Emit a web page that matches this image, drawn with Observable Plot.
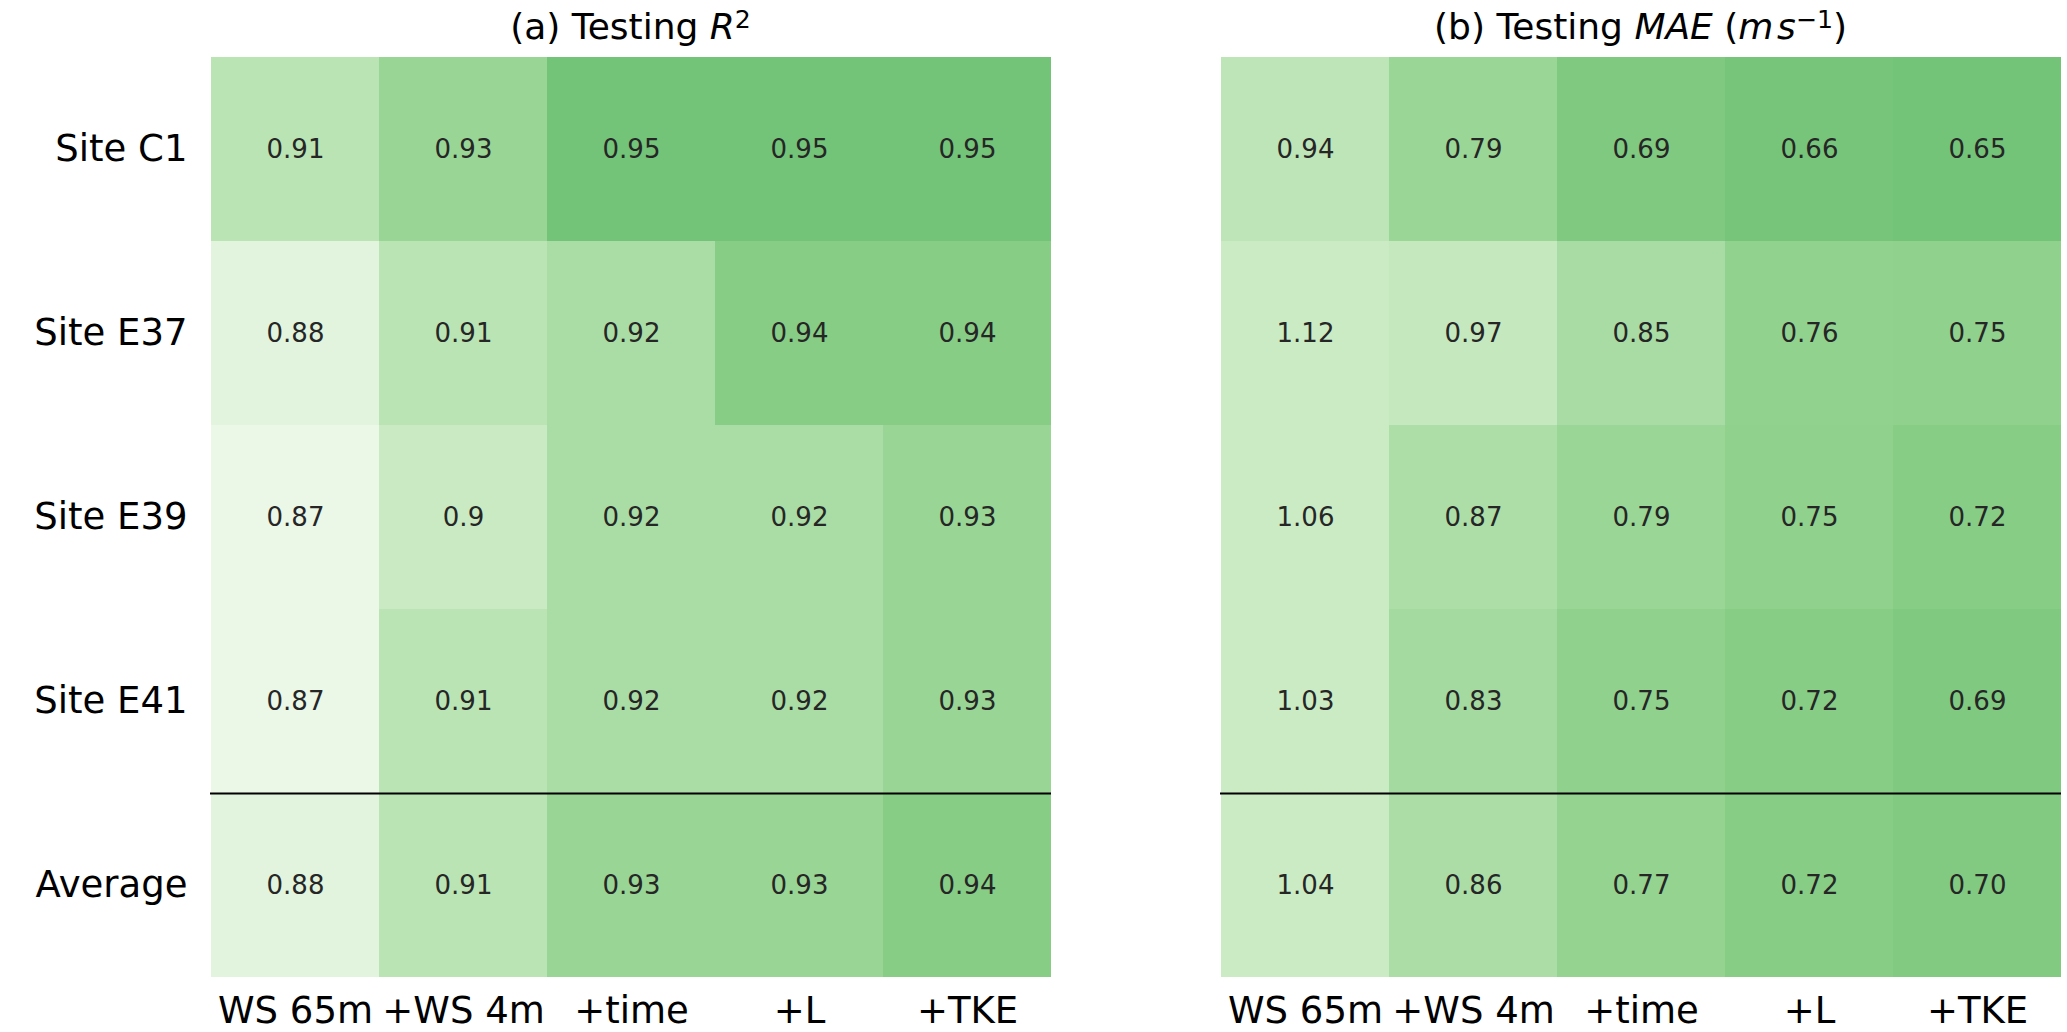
<!DOCTYPE html>
<html>
<head>
<meta charset="utf-8">
<script src="https://cdn.jsdelivr.net/npm/d3@7"></script>
<script src="https://cdn.jsdelivr.net/npm/@observablehq/plot@0.6"></script>
<style>
  body { margin: 0; background: #fff; font-family: "DejaVu Sans", sans-serif; }
  #root { position: relative; width: 2067px; height: 1032px; overflow: hidden; background: #fff; }
  .title { position: absolute; top: 9px; width: 841px; font-size: 36px; line-height: 36px; text-align: center; white-space: nowrap; color: #000; }
  .title i { font-style: italic; }
  .title sup { font-size: 0.7em; line-height: 0; vertical-align: 0.42em; }
  .panel { position: absolute; top: 57px; }
  .panel svg { overflow: visible; display: block; font-kerning: normal; }
</style>
</head>
<body>
<div id="root">
  <div class="title" style="left:210px">(a) Testing <i>R</i><sup>2</sup></div>
  <div class="title" style="left:1220px">(b) Testing <i>MAE</i> (<i>m</i>&#8202;<i>s</i><sup>&#8722;1</sup>)</div>
  <div class="panel" id="pa" style="left:0px"></div>
  <div class="panel" id="pb" style="left:1160px"></div>
</div>
<script>
// Categories
const models = ["WS 65m", "+WS 4m", "+time", "+L", "+TKE"];
const sites = ["Site C1", "Site E37", "Site E39", "Site E41", "Average"];

// (a) Testing R^2, one array per row
const r2C1  = [0.91, 0.93, 0.95, 0.95, 0.95];
const r2E37 = [0.88, 0.91, 0.92, 0.94, 0.94];
const r2E39 = [0.87, 0.90, 0.92, 0.92, 0.93];
const r2E41 = [0.87, 0.91, 0.92, 0.92, 0.93];
const r2Avg = [0.88, 0.91, 0.93, 0.93, 0.94];

// (b) Testing MAE (m s^-1), one array per row
const maeC1  = [0.94, 0.79, 0.69, 0.66, 0.65];
const maeE37 = [1.12, 0.97, 0.85, 0.76, 0.75];
const maeE39 = [1.06, 0.87, 0.79, 0.75, 0.72];
const maeE41 = [1.03, 0.83, 0.75, 0.72, 0.69];
const maeAvg = [1.04, 0.86, 0.77, 0.72, 0.70];

const r2Rows = [r2C1, r2E37, r2E39, r2E41, r2Avg];
const maeRows = [maeC1, maeE37, maeE39, maeE41, maeAvg];
const separatorRow = "Average";

function toTable(rows) {
  const out = [];
  rows.forEach((row, i) => row.forEach((v, j) => out.push({site: sites[i], model: models[j], value: v})));
  return out;
}
const tableA = toTable(r2Rows);
const tableB = toTable(maeRows);

function panel({table, color, fmt, showY, width, marginLeft, marginRight}) {
  const base = {
    width, height: 975,
    marginLeft, marginRight, marginTop: 0, marginBottom: 55,
    style: {fontFamily: "DejaVu Sans, sans-serif", background: "white", color: "#000", overflow: "visible"},
    x: {domain: models, padding: 0, label: null},
    y: {domain: sites, padding: 0, label: null, axis: showY ? undefined : null},
    color
  };
  const cells = Plot.cell(table, {x: "model", y: "site", fill: "value", inset: 0, shapeRendering: "crispEdges"});
  // probe the band scale so the separator sits on the top edge of the "Average" band
  const probe = Plot.plot({...base, marks: [cells]});
  const bw = probe.scale("y").bandwidth || 0;
  return Plot.plot({
    ...base,
    marks: [
      cells,
      Plot.text(table, {x: "model", y: "site", text: d => fmt(d.value), fill: "#262626", fontSize: 26}),
      Plot.ruleY([separatorRow], {stroke: "#000", strokeWidth: 2.2, dy: -bw / 2}),
      Plot.axisX({anchor: "bottom", tickSize: 0, tickPadding: 19, fontSize: 37, label: null}),
      showY ? Plot.axisY({anchor: "left", tickSize: 0, tickPadding: 23, fontSize: 37, label: null}) : null
    ]
  });
}

const plotA = panel({
  table: tableA,
  color: {type: "linear", domain: [0.87, 0.95], interpolate: t => d3.interpolateGreens(0.08 + 0.42 * t), clamp: true},
  fmt: v => String(v),
  showY: true,
  width: 1100, marginLeft: 210, marginRight: 49
});
const plotB = panel({
  table: tableB,
  color: {type: "linear", domain: [0.65, 1.0], interpolate: t => d3.interpolateGreens(0.5 - 0.27 * t), clamp: true},
  fmt: v => v.toFixed(2),
  showY: false,
  width: 907, marginLeft: 60, marginRight: 6
});
document.getElementById("pa").appendChild(plotA);
document.getElementById("pb").appendChild(plotB);
</script>
</body>
</html>
